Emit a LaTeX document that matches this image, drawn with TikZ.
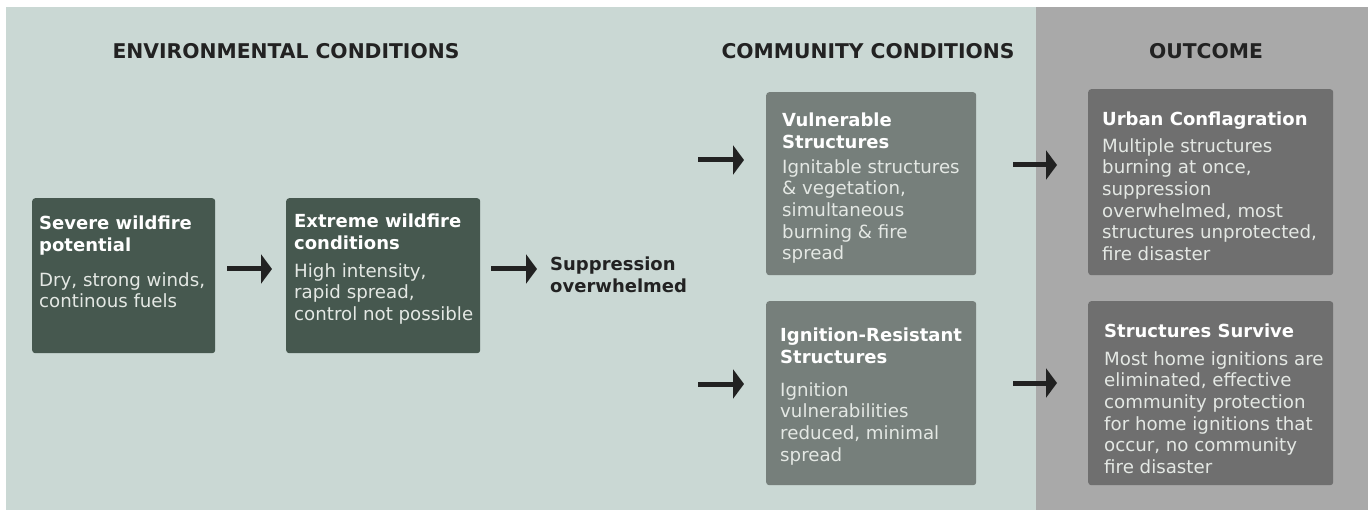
\documentclass[tikz,border=0pt]{standalone}
\usepackage{fontspec}
\setmainfont{DejaVu Sans}
\usetikzlibrary{arrows.meta}
\definecolor{bgA}{HTML}{CAD8D4}
\definecolor{bgB}{HTML}{A9A9A9}
\definecolor{boxG}{HTML}{46584F}
\definecolor{boxM}{HTML}{767F7B}
\definecolor{boxD}{HTML}{6F6F6F}
\definecolor{ink}{HTML}{222222}
\definecolor{bodyc}{HTML}{E4E8E4}
\tikzset{
  panel/.style={draw=none,rounded corners=3pt,inner sep=0pt,anchor=north west},
  ttl/.style={anchor=north west,inner sep=0pt,align=left,text=white,font=\fontsize{18}{21.5}\selectfont\bfseries},
  bdy/.style={anchor=north west,inner sep=0pt,align=left,text=bodyc,font=\fontsize{18.2}{21.7}\selectfont},
  hdr/.style={inner sep=0pt,text=ink,font=\fontsize{20.3}{22}\selectfont\bfseries},
  arr/.style={draw=ink,line width=5pt,-{Triangle[length=11pt,width=29pt]}}
}
\begin{document}
\begin{tikzpicture}[x=1pt,y=-1pt]
\useasboundingbox (0,0) rectangle (1372,510);
\fill[white] (0,0) rectangle (1372,510);
\fill[bgA] (6,7) rectangle (1036,510);
\fill[bgB] (1036,7) rectangle (1368,510);
% headers
\node[hdr] (h1) at (286,51) {ENVIRONMENTAL CONDITIONS};
\node[hdr] (h2) at (868,51) {COMMUNITY CONDITIONS};
\node[hdr] (h3) at (1206,51) {OUTCOME};
% boxes
\node[panel,fill=boxG,minimum width=183pt,minimum height=155pt] (b1) at (32,198) {};
\node[panel,fill=boxG,minimum width=194pt,minimum height=155pt] (b2) at (286,198) {};
\node[panel,fill=boxM,minimum width=210pt,minimum height=183pt] (b3) at (766,92) {};
\node[panel,fill=boxM,minimum width=210pt,minimum height=184pt] (b4) at (766,301) {};
\node[panel,fill=boxD,minimum width=245pt,minimum height=186pt] (b5) at (1088,89) {};
\node[panel,fill=boxD,minimum width=245pt,minimum height=184pt] (b6) at (1088,301) {};
% texts
\node[ttl] (t1) at (39,216) {Severe wildfire\\potential};
\node[bdy] (d1) at (39,272) {Dry, strong winds,\\continous fuels};
\node[ttl] (t2) at (294,214) {Extreme wildfire\\conditions};
\node[bdy] (d2) at (294,263) {High intensity,\\rapid spread,\\control not possible};
\node[ttl] (t3) at (782,113) {Vulnerable\\Structures};
\node[bdy] (d3) at (782,159) {Ignitable structures\\\& vegetation,\\simultaneous\\burning \& fire\\spread};
\node[ttl] (t4) at (780,328) {Ignition-Resistant\\Structures};
\node[bdy] (d4) at (780,382) {Ignition\\vulnerabilities\\reduced, minimal\\spread};
\node[ttl] (t5) at (1102,112) {Urban Conflagration};
\node[bdy] (d5) at (1102,138) {Multiple structures\\burning at once,\\suppression\\overwhelmed, most\\structures unprotected,\\fire disaster};
\node[ttl] (t6) at (1104,324) {Structures Survive};
\node[bdy] (d6) at (1104,351) {Most home ignitions are\\eliminated, effective\\community protection\\for home ignitions that\\occur, no community\\fire disaster};
\node[ttl,text=ink] (sup) at (550,257) {Suppression\\overwhelmed};
% arrows
\coordinate (y1) at (0,269);
\coordinate (y3) at (0,160);
\coordinate (y4) at (0,384);
\coordinate (y5) at (0,165);
\coordinate (y6) at (0,383);
\coordinate (s3) at (698,160);
\coordinate (s4) at (698,384);
\draw[arr,shorten <=12pt,shorten >=14pt] (b1.east |- y1) -- (b2.west |- y1);
\draw[arr,shorten <=11pt,shorten >=13pt] (b2.east |- y1) -- (sup.west |- y1);
\draw[arr,shorten >=22pt] (s3) -- (b3.west |- y3);
\draw[arr,shorten >=22pt] (s4) -- (b4.west |- y4);
\draw[arr,shorten <=37pt,shorten >=31pt] (b3.east |- y5) -- (b5.west |- y5);
\draw[arr,shorten <=37pt,shorten >=31pt] (b4.east |- y6) -- (b6.west |- y6);
\end{tikzpicture}
\end{document}
